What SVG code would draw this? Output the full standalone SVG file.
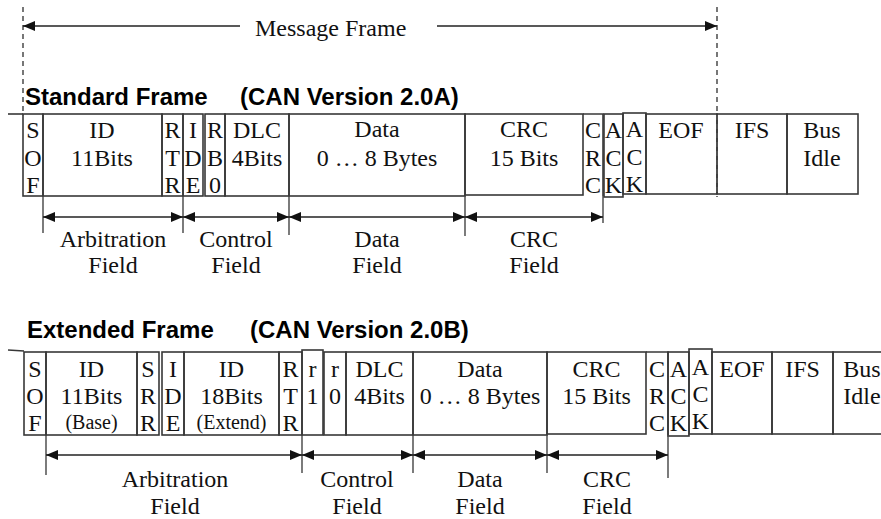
<svg xmlns="http://www.w3.org/2000/svg" width="881" height="519" viewBox="0 0 881 519">
<defs>
<style>
.c{fill:none;stroke:#383838;stroke-width:1.6}
.t{font-family:"Liberation Serif","Times New Roman",serif;font-size:24px;fill:#111;text-anchor:middle}
.s{font-size:20px}
.h{font-family:"Liberation Sans",Arial,sans-serif;font-weight:bold;font-size:24px;fill:#000}
.ln{fill:none;stroke:#222;stroke-width:1.6}
.tk{fill:none;stroke:#444;stroke-width:1.4}
.ds{fill:none;stroke:#555;stroke-width:1.6;stroke-dasharray:5,4}
</style>
<marker id="ah" viewBox="0 0 12 10" refX="12" refY="5" markerWidth="12" markerHeight="10" markerUnits="userSpaceOnUse" orient="auto-start-reverse">
<path d="M0,0 L12,5 L0,10 z" fill="#111"/>
</marker>
</defs>
<rect width="881" height="519" fill="#fff"/>

<!-- Titles -->
<g id="title-msg"><text class="t" x="255" y="36" style="text-anchor:start">Message Frame</text></g>
<g id="title-std"><text class="h" x="25" y="105">Standard Frame</text><text class="h" x="240" y="105">(CAN Version 2.0A)</text></g>
<g id="title-ext"><text class="h" x="27" y="338">Extended Frame</text><text class="h" x="250" y="338">(CAN Version 2.0B)</text></g>

<!-- Standard frame -->
<g id="std-sof"><line class="c" x1="8" y1="114" x2="23" y2="114"/><rect class="c" x="23" y="114" width="20" height="82"/><text class="t" x="33" y="138">S</text><text class="t" x="33" y="166">O</text><text class="t" x="33" y="193">F</text></g>
<g id="std-id"><rect class="c" x="43" y="114" width="119" height="82"/><text class="t" x="102" y="138">ID</text><text class="t" x="102" y="166">11Bits</text></g>
<g id="std-rtr"><rect class="c" x="162" y="114" width="21" height="82"/><text class="t" x="172.5" y="138">R</text><text class="t" x="172.5" y="166">T</text><text class="t" x="172.5" y="193">R</text></g>
<g id="std-ide"><rect class="c" x="183" y="114" width="20" height="82"/><text class="t" x="193" y="138">I</text><text class="t" x="193" y="166">D</text><text class="t" x="193" y="193">E</text></g>
<g id="std-rb0"><rect class="c" x="205" y="114" width="20" height="82"/><text class="t" x="215" y="138">R</text><text class="t" x="215" y="166">B</text><text class="t" x="215" y="193">0</text></g>
<g id="std-dlc"><rect class="c" x="225" y="114" width="64" height="82"/><text class="t" x="257" y="138">DLC</text><text class="t" x="257" y="166">4Bits</text></g>
<g id="std-data"><rect class="c" x="289" y="114" width="176" height="82"/><text class="t" x="377" y="137">Data</text><text class="t" x="377" y="166">0 … 8 Bytes</text></g>
<g id="std-crc"><rect class="c" x="465" y="114" width="118" height="81"/><text class="t" x="524" y="137">CRC</text><text class="t" x="524" y="166">15 Bits</text></g>
<g id="std-crcdel"><path class="c" d="M583,114 H603 V196"/><text class="t" x="593" y="138">C</text><text class="t" x="593" y="166">R</text><text class="t" x="593" y="193">C</text></g>
<g id="std-ack"><rect class="c" x="604" y="114" width="19" height="83"/><text class="t" x="613.5" y="138">A</text><text class="t" x="613.5" y="166">C</text><text class="t" x="613.5" y="193">K</text></g>
<g id="std-ackdel"><rect class="c" x="623" y="113" width="23" height="81"/><text class="t" x="634.5" y="137">A</text><text class="t" x="634.5" y="165">C</text><text class="t" x="634.5" y="192">K</text></g>
<g id="std-eof"><rect class="c" x="646" y="114" width="71" height="80"/><text class="t" x="681" y="138">EOF</text></g>
<g id="std-ifs"><rect class="c" x="717" y="114" width="70" height="80"/><text class="t" x="752" y="138">IFS</text></g>
<g id="std-idle"><rect class="c" x="787" y="114" width="71" height="80"/><text class="t" x="822" y="138">Bus</text><text class="t" x="822" y="166">Idle</text></g>

<!-- Standard field labels -->
<g id="std-arb-label"><text class="t" x="113" y="247">Arbitration</text><text class="t" x="113" y="273">Field</text></g>
<g id="std-ctl-label"><text class="t" x="236" y="247">Control</text><text class="t" x="236" y="273">Field</text></g>
<g id="std-data-label"><text class="t" x="377" y="247">Data</text><text class="t" x="377" y="273">Field</text></g>
<g id="std-crc-label"><text class="t" x="534" y="247">CRC</text><text class="t" x="534" y="273">Field</text></g>

<!-- Extended frame -->
<g id="ext-sof"><line class="c" x1="8" y1="350" x2="24" y2="351"/><rect class="c" x="24" y="352" width="22" height="83"/><text class="t" x="35" y="377">S</text><text class="t" x="35" y="404">O</text><text class="t" x="35" y="431">F</text></g>
<g id="ext-idb"><rect class="c" x="46" y="352" width="91" height="83"/><text class="t" x="91.5" y="377">ID</text><text class="t" x="91.5" y="404">11Bits</text><text class="t s" x="91.5" y="429">(Base)</text></g>
<g id="ext-srr"><rect class="c" x="137" y="352" width="22" height="83"/><text class="t" x="148" y="377">S</text><text class="t" x="148" y="404">R</text><text class="t" x="148" y="431">R</text></g>
<g id="ext-ide"><rect class="c" x="162" y="352" width="22" height="83"/><text class="t" x="173" y="377">I</text><text class="t" x="173" y="404">D</text><text class="t" x="173" y="431">E</text></g>
<g id="ext-ide2"><rect class="c" x="184" y="352" width="95" height="83"/><text class="t" x="231.5" y="377">ID</text><text class="t" x="231.5" y="404">18Bits</text><text class="t s" x="231.5" y="429">(Extend)</text></g>
<g id="ext-rtr"><rect class="c" x="279" y="352" width="23" height="83"/><text class="t" x="290.5" y="377">R</text><text class="t" x="290.5" y="404">T</text><text class="t" x="290.5" y="431">R</text></g>
<g id="ext-r1"><rect class="c" x="302" y="350" width="21" height="85"/><text class="t" x="312.5" y="377">r</text><text class="t" x="312.5" y="404">1</text></g>
<g id="ext-r0"><rect class="c" x="324" y="352" width="22" height="83"/><text class="t" x="335" y="377">r</text><text class="t" x="335" y="404">0</text></g>
<g id="ext-dlc"><rect class="c" x="346" y="352" width="67" height="83"/><text class="t" x="379.5" y="377">DLC</text><text class="t" x="379.5" y="404">4Bits</text></g>
<g id="ext-data"><rect class="c" x="413" y="352" width="134" height="83"/><text class="t" x="480" y="377">Data</text><text class="t" x="480" y="404">0 … 8 Bytes</text></g>
<g id="ext-crc"><rect class="c" x="547" y="352" width="99" height="82"/><text class="t" x="596.5" y="377">CRC</text><text class="t" x="596.5" y="404">15 Bits</text></g>
<g id="ext-crcdel"><path class="c" d="M646,352 H668 V435"/><text class="t" x="657" y="377">C</text><text class="t" x="657" y="404">R</text><text class="t" x="657" y="431">C</text></g>
<g id="ext-ack"><rect class="c" x="668" y="352" width="21" height="84"/><text class="t" x="678.5" y="377">A</text><text class="t" x="678.5" y="404">C</text><text class="t" x="678.5" y="431">K</text></g>
<g id="ext-ackdel"><rect class="c" x="689" y="349" width="23" height="85"/><text class="t" x="700.5" y="375">A</text><text class="t" x="700.5" y="402">C</text><text class="t" x="700.5" y="429">K</text></g>
<g id="ext-eof"><rect class="c" x="712" y="352" width="60" height="82"/><text class="t" x="742" y="377">EOF</text></g>
<g id="ext-ifs"><rect class="c" x="772" y="352" width="61" height="82"/><text class="t" x="802.5" y="377">IFS</text></g>
<g id="ext-idle"><rect class="c" x="833" y="352" width="60" height="82"/><text class="t" x="862" y="377">Bus</text><text class="t" x="862" y="404">Idle</text></g>

<!-- Extended field labels -->
<g id="ext-arb-label"><text class="t" x="175" y="487">Arbitration</text><text class="t" x="175" y="514">Field</text></g>
<g id="ext-ctl-label"><text class="t" x="357" y="487">Control</text><text class="t" x="357" y="514">Field</text></g>
<g id="ext-data-label"><text class="t" x="480" y="487">Data</text><text class="t" x="480" y="514">Field</text></g>
<g id="ext-crc-label"><text class="t" x="607" y="487">CRC</text><text class="t" x="607" y="514">Field</text></g>

<!-- Connectors -->
<g id="connectors">
<line class="ds" x1="23" y1="7" x2="23" y2="116"/>
<line class="ds" x1="717" y1="7" x2="717" y2="197"/>
<line class="ln" x1="240" y1="26" x2="23" y2="26" marker-end="url(#ah)"/>
<line class="ln" x1="437" y1="26" x2="717" y2="26" marker-end="url(#ah)"/>

<line class="tk" x1="43" y1="196" x2="43" y2="233"/>
<line class="tk" x1="183" y1="196" x2="183" y2="233"/>
<line class="tk" x1="289" y1="196" x2="289" y2="235"/>
<line class="tk" x1="465" y1="196" x2="465" y2="236"/>
<line class="tk" x1="603" y1="196" x2="603" y2="223"/>
<line class="ln" x1="43" y1="217" x2="183" y2="217" marker-start="url(#ah)" marker-end="url(#ah)"/>
<line class="ln" x1="183" y1="217" x2="289" y2="217" marker-start="url(#ah)" marker-end="url(#ah)"/>
<line class="ln" x1="289" y1="217" x2="465" y2="217" marker-start="url(#ah)" marker-end="url(#ah)"/>
<line class="ln" x1="465" y1="217" x2="603" y2="217" marker-start="url(#ah)" marker-end="url(#ah)"/>

<line class="tk" x1="46" y1="435" x2="46" y2="475"/>
<line class="tk" x1="302" y1="435" x2="302" y2="473"/>
<line class="tk" x1="413" y1="435" x2="413" y2="473"/>
<line class="tk" x1="547" y1="435" x2="547" y2="473"/>
<line class="tk" x1="668" y1="435" x2="668" y2="478"/>
<line class="ln" x1="46" y1="455" x2="302" y2="455" marker-start="url(#ah)" marker-end="url(#ah)"/>
<line class="ln" x1="302" y1="455" x2="413" y2="455" marker-start="url(#ah)" marker-end="url(#ah)"/>
<line class="ln" x1="413" y1="455" x2="547" y2="455" marker-start="url(#ah)" marker-end="url(#ah)"/>
<line class="ln" x1="547" y1="455" x2="668" y2="455" marker-start="url(#ah)" marker-end="url(#ah)"/>
</g>
</svg>
